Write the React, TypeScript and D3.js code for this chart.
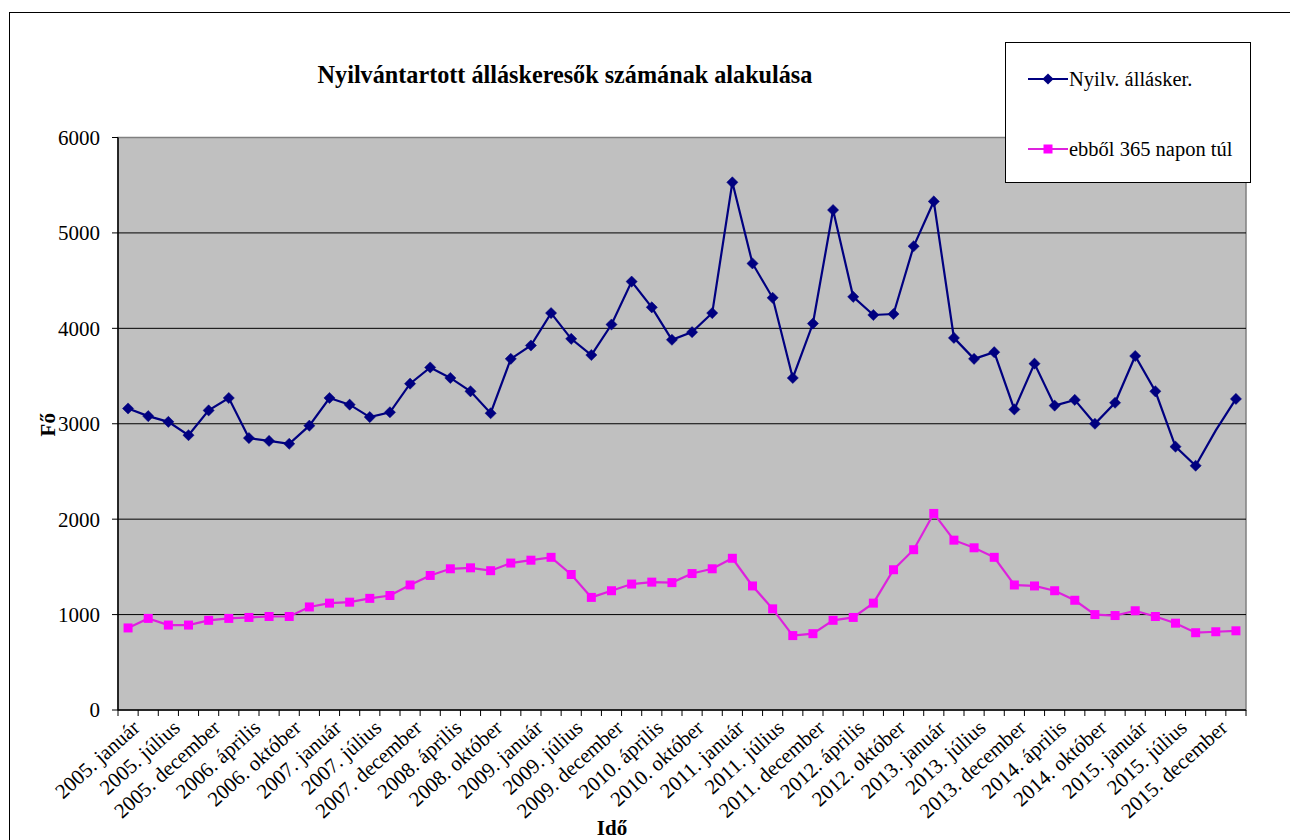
import React from 'react';
import * as d3 from 'd3';

const chartTitle = 'Nyilvántartott álláskeresők számának alakulása';
const yAxisTitle = 'Fő';
const xAxisTitle = 'Idő';
const seriesNames = ['Nyilv. állásker.', 'ebből 365 napon túl'];

const categories = [
  '2005. január', '2005. április', '2005. július', '2005. október', '2005. december',
  '2006. február', '2006. április', '2006. július', '2006. október', '2006. december',
  '2007. január', '2007. április', '2007. július', '2007. október', '2007. december',
  '2008. február', '2008. április', '2008. július', '2008. október', '2008. december',
  '2009. január', '2009. április', '2009. július', '2009. október', '2009. december',
  '2010. február', '2010. április', '2010. július', '2010. október', '2010. december',
  '2011. január', '2011. április', '2011. július', '2011. október', '2011. december',
  '2012. február', '2012. április', '2012. július', '2012. október', '2012. december',
  '2013. január', '2013. április', '2013. július', '2013. október', '2013. december',
  '2014. február', '2014. április', '2014. július', '2014. október', '2014. december',
  '2015. január', '2015. április', '2015. július', '2015. október', '2015. december',
  '2016. február',
];

// every other category carries a visible label
const shownLabels = categories.filter((_, i) => i % 2 === 0);

const registered = [
  3160, 3080, 3020, 2880, 3140, 3270, 2850, 2820, 2790, 2980,
  3270, 3200, 3070, 3120, 3420, 3590, 3480, 3340, 3110, 3680,
  3820, 4160, 3890, 3720, 4040, 4490, 4220, 3880, 3960, 4160,
  5530, 4680, 4320, 3480, 4050, 5240, 4330, 4140, 4150, 4860,
  5330, 3900, 3680, 3750, 3150, 3630, 3190, 3250, 3000, 3220,
  3710, 3340, 2760, 2560, 2930, 3260,
];
// in the picture this point of the first series shows no marker
const registeredNoMarker = ['2015. december'];

const longTerm = [
  860, 960, 890, 890, 940, 960, 970, 980, 980, 1080,
  1120, 1130, 1170, 1200, 1310, 1410, 1480, 1490, 1460, 1540,
  1570, 1600, 1420, 1180, 1250, 1320, 1340, 1335, 1430, 1480,
  1590, 1300, 1060, 780, 800, 940, 970, 1120, 1470, 1680,
  2060, 1780, 1700, 1600, 1310, 1300, 1250, 1150, 1000, 990,
  1040, 980, 910, 810, 820, 830,
];

const yTicks = [0, 1000, 2000, 3000, 4000, 5000, 6000];

const FONT = '"Liberation Serif", "Times New Roman", serif';
const BLUE = '#000080';
const PINK = '#ff00ff';
const PINK_LINE = '#dd22dd';

const W = 1290;
const H = 840;
const plot = { left: 118, right: 1246, top: 137.5, bottom: 710 };

export default function App() {
  const x = d3.scaleBand<string>().domain(categories).range([plot.left, plot.right]);
  const cx = (c: string) => (x(c) as number) + x.bandwidth() / 2;
  const y = d3.scaleLinear().domain([0, 6000]).range([plot.bottom, plot.top]);

  const line = d3
    .line<number>()
    .x((_, i) => cx(categories[i]))
    .y((d) => y(d));

  const diamond = d3.symbol().type(d3.symbolSquare).size(62)() as string;
  const square = d3.symbol().type(d3.symbolSquare).size(81)() as string;

  const tickXs = d3.range(categories.length + 1).map((i) => plot.left + i * x.step());

  return (
    <svg
      width={W}
      height={H}
      style={{ position: 'absolute', left: 0, top: 0, background: '#fff', fontFamily: FONT }}
    >
      {/* chart border */}
      <rect x={9.5} y={12.5} width={1300} height={900} fill="#fff" stroke="#000" strokeWidth={1} />

      {/* plot area */}
      <rect
        x={plot.left}
        y={plot.top}
        width={plot.right - plot.left}
        height={plot.bottom - plot.top}
        fill="#c0c0c0"
        stroke="#808080"
        strokeWidth={1.5}
      />

      {/* gridlines */}
      {yTicks
        .filter((t) => t > 0 && t < 6000)
        .map((t) => (
          <line key={t} x1={plot.left} x2={plot.right} y1={y(t)} y2={y(t)} stroke="#000" strokeWidth={1} />
        ))}

      {/* y axis */}
      <line x1={plot.left} x2={plot.left} y1={plot.top} y2={plot.bottom} stroke="#000" strokeWidth={1.5} />
      {yTicks.map((t) => (
        <g key={t}>
          <line x1={plot.left - 6} x2={plot.left} y1={y(t)} y2={y(t)} stroke="#000" strokeWidth={1} />
          <text x={plot.left - 18} y={y(t)} dy="0.35em" textAnchor="end" fontSize={21} fill="#000">
            {t}
          </text>
        </g>
      ))}

      {/* x axis */}
      <line x1={plot.left} x2={plot.right} y1={plot.bottom} y2={plot.bottom} stroke="#000" strokeWidth={1.5} />
      {tickXs.map((tx, i) => (
        <line key={i} x1={tx} x2={tx} y1={plot.bottom} y2={plot.bottom + 6} stroke="#000" strokeWidth={1} />
      ))}
      {shownLabels.map((c) => (
        <text
          key={c}
          transform={`translate(${cx(c) + 8},${plot.bottom + 14}) rotate(-42)`}
          textAnchor="end"
          dy="0.35em"
          fontSize={21}
          fill="#000"
        >
          {c}
        </text>
      ))}

      {/* series: registered */}
      <path d={line(registered) as string} fill="none" stroke={BLUE} strokeWidth={2.2} />
      {registered.map((v, i) =>
        registeredNoMarker.includes(categories[i]) ? null : (
          <path
            key={i}
            d={diamond}
            transform={`translate(${cx(categories[i])},${y(v)}) rotate(45)`}
            fill={BLUE}
            stroke={BLUE}
            strokeWidth={0.5}
          />
        )
      )}

      {/* series: long-term */}
      <path d={line(longTerm) as string} fill="none" stroke={PINK_LINE} strokeWidth={2.2} />
      {longTerm.map((v, i) => (
        <path key={i} d={square} transform={`translate(${cx(categories[i])},${y(v)})`} fill={PINK} />
      ))}

      {/* title */}
      <text x={565} y={75} dy="0.35em" textAnchor="middle" fontSize={24.2} fontWeight="bold" fill="#000">
        {chartTitle}
      </text>

      {/* axis titles */}
      <text
        transform={`translate(48,${(plot.top + plot.bottom) / 2 + 1}) rotate(-90)`}
        textAnchor="middle"
        dy="0.35em"
        fontSize={21}
        fontWeight="bold"
        fill="#000"
      >
        {yAxisTitle}
      </text>
      <text x={612} y={828} dy="0.35em" textAnchor="middle" fontSize={21} fontWeight="bold" fill="#000">
        {xAxisTitle}
      </text>

      {/* legend */}
      <rect x={1005.5} y={42.5} width={245} height={140} fill="#fff" stroke="#000" strokeWidth={1} />
      <line x1={1028} x2={1068} y1={79} y2={79} stroke={BLUE} strokeWidth={2.2} />
      <path d={diamond} transform="translate(1048,79) rotate(45)" fill={BLUE} />
      <text x={1069} y={79} dy="0.35em" fontSize={20.5} fill="#000">
        {seriesNames[0]}
      </text>
      <line x1={1028} x2={1068} y1={149} y2={149} stroke={PINK_LINE} strokeWidth={1.8} />
      <path d={square} transform="translate(1048,149)" fill={PINK} />
      <text x={1069} y={149} dy="0.35em" fontSize={20.5} fill="#000">
        {seriesNames[1]}
      </text>
    </svg>
  );
}
